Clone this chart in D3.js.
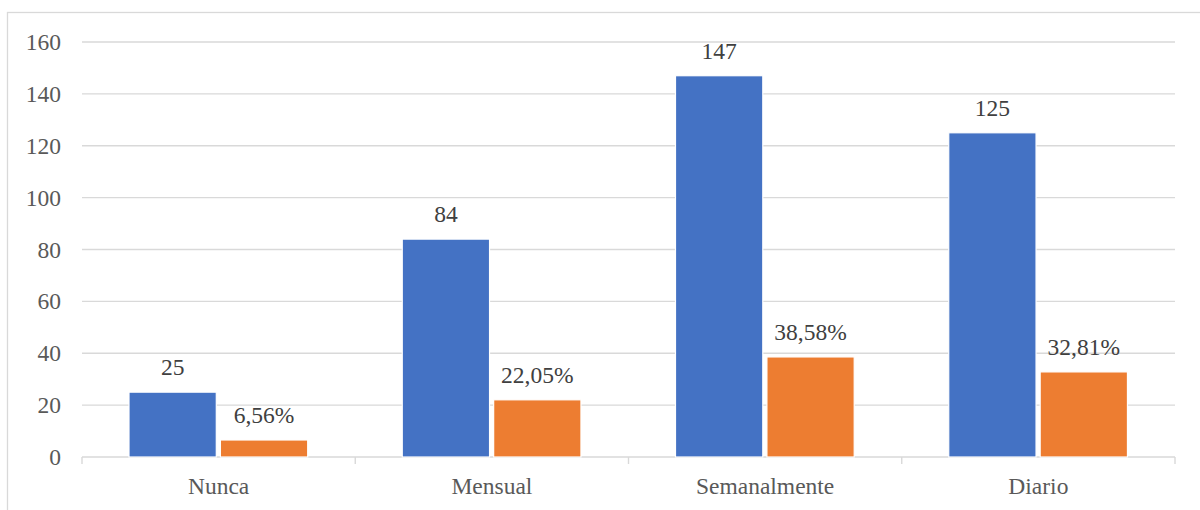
<!DOCTYPE html>
<html>
<head>
<meta charset="utf-8">
<script src="https://cdn.jsdelivr.net/npm/d3@7/dist/d3.min.js"></script>
<style>
  html, body { margin: 0; padding: 0; background: #fff; }
  svg { display: block; }
</style>
</head>
<body>
<svg id="chart" width="1200" height="510"></svg>
<script>
// Frequency categories and the two series: counts and share of total (%)
const categories = ["Nunca", "Mensual", "Semanalmente", "Diario"];
const counts = [25, 84, 147, 125];
const percents = [6.56, 22.05, 38.58, 32.81];
const yTicks = [0, 20, 40, 60, 80, 100, 120, 140, 160];
const seriesKeys = ["count", "percent"];
const seriesColors = ["#4472c4", "#ed7d31"];

const FONT = "'Liberation Serif', 'Times New Roman', serif";
const esLocale = d3.formatLocale({ decimal: ",", thousands: ".", grouping: [3], currency: ["", "€"] });
const fmtPct = v => esLocale.format(".2f")(v) + "%";

const svg = d3.select("#chart");
const W = 1200, H = 510;
const plot = { left: 82, right: 1175, top: 42, bottom: 457 };

// Outer chart frame
svg.append("rect")
  .attr("x", 7.5).attr("y", 12.5)
  .attr("width", W + 10).attr("height", H + 10)
  .attr("fill", "#fff").attr("stroke", "#d9d9d9").attr("stroke-width", 1.3);

const y = d3.scaleLinear().domain([0, 160]).range([plot.bottom, plot.top]);
const x0 = d3.scaleBand().domain(categories).range([plot.left, plot.right]).padding(0);
const bw = x0.bandwidth();
const x1 = d3.scaleBand().domain(seriesKeys)
  .range([bw * 0.172, bw * 0.826]).paddingInner(0.045);

// Horizontal gridlines
svg.append("g")
  .selectAll("line")
  .data(yTicks.filter(t => t > 0))
  .join("line")
  .attr("x1", plot.left).attr("x2", plot.right)
  .attr("y1", d => y(d)).attr("y2", d => y(d))
  .attr("stroke", "#d9d9d9").attr("stroke-width", 1.4);

// Y axis labels
const yAxis = d3.axisLeft(y).tickValues(yTicks).tickSize(0).tickPadding(21);
const gy = svg.append("g").attr("transform", `translate(${plot.left},0)`).call(yAxis);
gy.select(".domain").remove();
gy.selectAll("text")
  .style("font-family", FONT)
  .style("font-size", "23.5px").attr("fill", "#595959");

// X axis baseline with boundary ticks
const gx = svg.append("g").attr("transform", `translate(0,${plot.bottom})`);
gx.append("line")
  .attr("x1", plot.left).attr("x2", plot.right)
  .attr("stroke", "#d9d9d9").attr("stroke-width", 1.4);
const bounds = categories.map(c => x0(c)).concat([plot.right]);
gx.selectAll("line.tick")
  .data(bounds)
  .join("line")
  .attr("class", "tick")
  .attr("x1", d => d).attr("x2", d => d)
  .attr("y1", 0).attr("y2", 7)
  .attr("stroke", "#d9d9d9").attr("stroke-width", 1.4);
gx.selectAll("text")
  .data(categories)
  .join("text")
  .attr("x", d => x0(d) + bw / 2)
  .attr("y", 37)
  .attr("text-anchor", "middle")
  .style("font-family", FONT)
  .style("font-size", "23.5px").attr("fill", "#595959")
  .text(d => d);

// Bars
const rows = categories.map((c, i) => ({ cat: c, count: counts[i], percent: percents[i] }));
const groups = svg.append("g")
  .selectAll("g")
  .data(rows)
  .join("g")
  .attr("transform", d => `translate(${x0(d.cat)},0)`);

groups.selectAll("rect")
  .data(d => seriesKeys.map((k, j) => ({ key: k, value: d[k], color: seriesColors[j] })))
  .join("rect")
  .attr("x", d => x1(d.key))
  .attr("width", x1.bandwidth())
  .attr("y", d => y(d.value))
  .attr("height", d => y(0) - y(d.value))
  .attr("fill", d => d.color)
  .attr("stroke", "#fff").attr("stroke-width", 1.2);

// Value labels
groups.selectAll("text")
  .data(d => seriesKeys.map(k => ({ key: k, value: d[k] })))
  .join("text")
  .attr("x", d => x1(d.key) + x1.bandwidth() / 2)
  .attr("y", d => y(d.value) - 17)
  .attr("text-anchor", "middle")
  .style("font-family", FONT)
  .style("font-size", "23.5px").attr("fill", "#404040")
  .text(d => d.key === "percent" ? fmtPct(d.value) : d.value);
</script>
</body>
</html>
